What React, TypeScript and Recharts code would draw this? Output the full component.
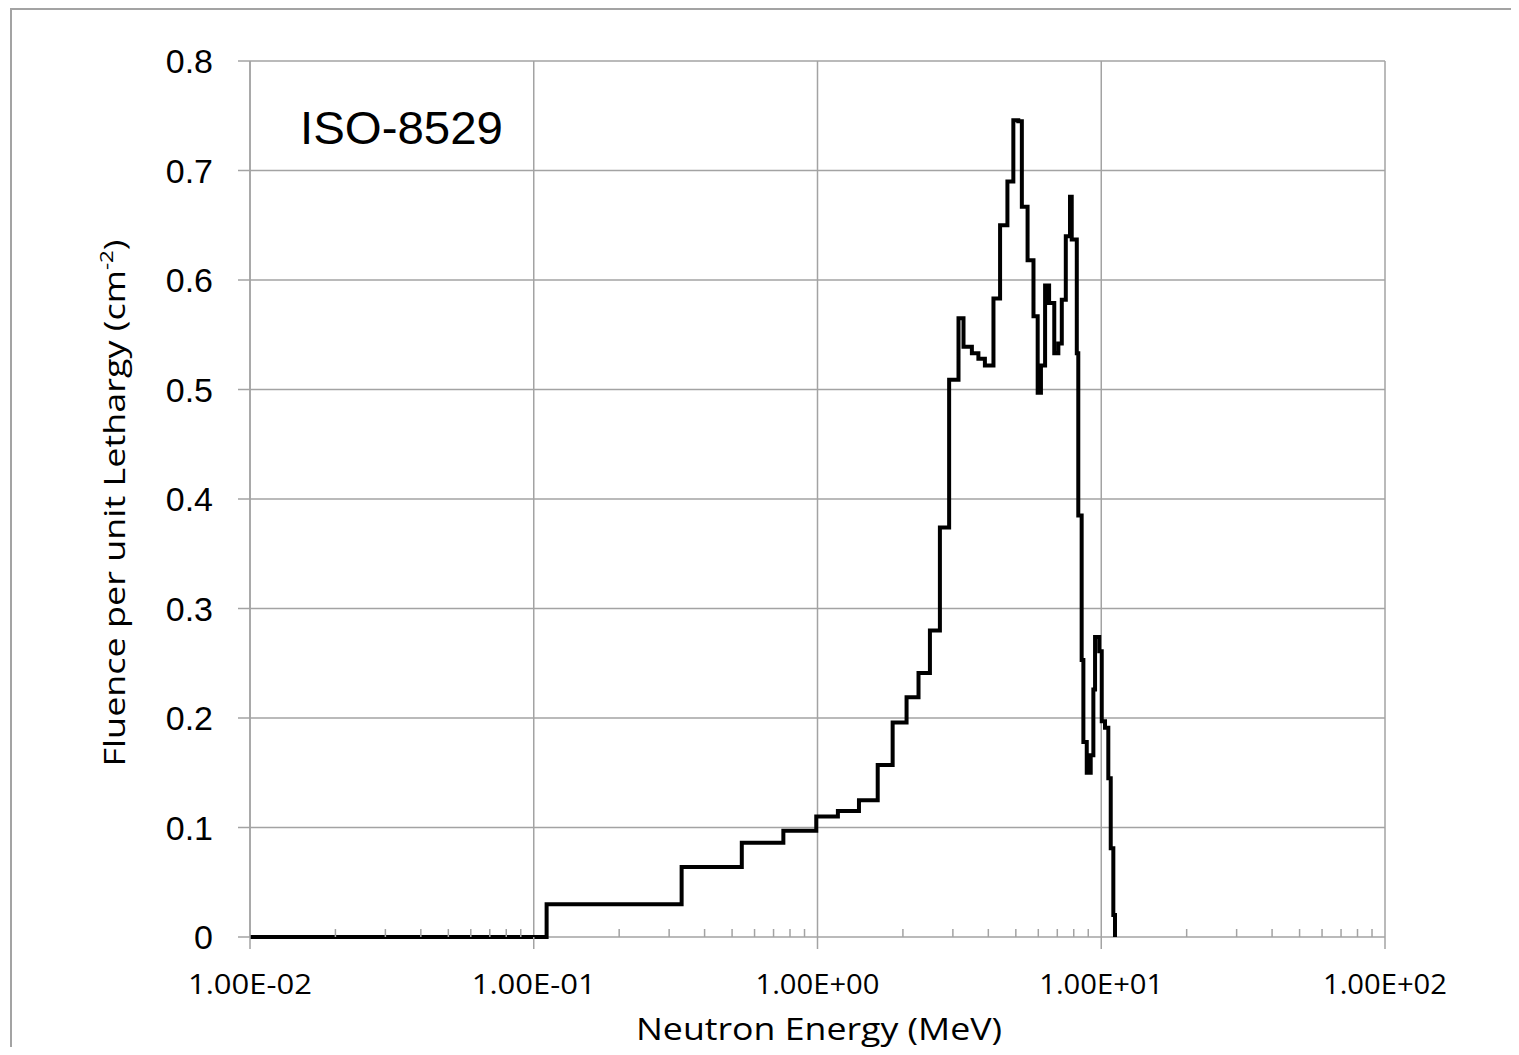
import React from 'react';
import { LineChart, Line, XAxis, YAxis, CartesianGrid, Customized } from 'recharts';

// Bin lower edges (MeV) and fluence per unit lethargy (step function)
const energyMeV = [
  0.01, 0.111, 0.332, 0.541, 0.758, 0.99, 1.18, 1.40, 1.63, 1.84, 2.06, 2.27, 2.49, 2.70, 2.91,
  3.14, 3.27, 3.50, 3.69, 3.89, 4.17, 4.40, 4.67, 4.90, 5.10, 5.25, 5.50, 5.77, 5.97, 6.13,
  6.34, 6.55, 6.83, 7.06, 7.26, 7.50, 7.76, 7.87, 8.20, 8.30, 8.53, 8.65, 8.89, 9.18, 9.38,
  9.51, 9.84, 10.04, 10.31, 10.59, 10.80, 11.03, 11.18,
];
const fluence = [
  0, 0.030, 0.064, 0.086, 0.097, 0.110, 0.115, 0.125, 0.157, 0.196, 0.219, 0.241, 0.280, 0.374, 0.509,
  0.565, 0.539, 0.533, 0.528, 0.522, 0.583, 0.650, 0.690, 0.746, 0.745, 0.667, 0.618, 0.567, 0.497, 0.522,
  0.595, 0.579, 0.533, 0.542, 0.582, 0.640, 0.676, 0.637, 0.533, 0.385, 0.253, 0.178, 0.150, 0.166, 0.226,
  0.274, 0.261, 0.197, 0.191, 0.145, 0.081, 0.020, 0,
];

const majorTicks = [0.01, 0.1, 1, 10, 100];
const majorTickLabels = ['1.00E-02', '1.00E-01', '1.00E+00', '1.00E+01', '1.00E+02'];
const minorTicks = [
  0.02, 0.03, 0.04, 0.05, 0.06, 0.07, 0.08, 0.09,
  0.2, 0.3, 0.4, 0.5, 0.6, 0.7, 0.8, 0.9,
  2, 3, 4, 5, 6, 7, 8, 9,
  20, 30, 40, 50, 60, 70, 80, 90,
];
const yTicks = [0, 0.1, 0.2, 0.3, 0.4, 0.5, 0.6, 0.7, 0.8];
const yTickLabels = ['0', '0.1', '0.2', '0.3', '0.4', '0.5', '0.6', '0.7', '0.8'];

const data = energyMeV.map((e, i) => ({ energy: e, fluence: fluence[i] }));

const GRID = '#a3a3a3';
const NARROW = "'Open Sans', 'DejaVu Sans', sans-serif";
const ARIAL = "'Liberation Sans', Arial, sans-serif";

const XTick = (props: any) => {
  const { x, y, payload } = props;
  const idx = majorTicks.findIndex((t) => Math.abs(Math.log10(t) - Math.log10(payload.value)) < 1e-6);
  const label = idx >= 0 ? majorTickLabels[idx] : '';
  return (
    <text
      x={x}
      y={y}
      dy="0.71em"
      textAnchor="middle"
      fontSize={28}
      fontFamily={NARROW}
      fill="#000"
      textLength={124}
      lengthAdjust="spacingAndGlyphs"
    >
      {label}
    </text>
  );
};

const EmptyTick = () => <g />;

const yFormat = (v: number) => {
  const idx = yTicks.findIndex((t) => Math.abs(t - v) < 1e-9);
  return idx >= 0 ? yTickLabels[idx] : String(v);
};

const Titles = () => (
  <g>
    <text
      x={292}
      y={136}
      fontSize={47}
      fontFamily={ARIAL}
      fill="#000"
      textLength={203}
      lengthAdjust="spacingAndGlyphs"
    >
      ISO-8529
    </text>
    <text
      x={811}
      y={1032}
      textAnchor="middle"
      fontSize={31}
      fontFamily={NARROW}
      fill="#000"
      textLength={366}
      lengthAdjust="spacingAndGlyphs"
    >
      Neutron Energy (MeV)
    </text>
    <text
      transform="translate(117,495) rotate(-90)"
      x={0}
      y={0}
      textAnchor="middle"
      fontSize={29}
      fontFamily={NARROW}
      fill="#000"
      textLength={527}
      lengthAdjust="spacingAndGlyphs"
    >
      Fluence per unit Lethargy  (cm
      <tspan fontSize={18} dy={-12}>-2</tspan>
      <tspan dy={12}>)</tspan>
    </text>
  </g>
);

export default function App() {
  return (
    <div style={{ position: 'relative', width: 1500, height: 1047, marginBottom: -8 }}>
      <div
        style={{
          position: 'absolute',
          left: 2,
          top: 0,
          width: 1508,
          height: 1047,
          borderTop: `2px solid ${GRID}`,
          borderLeft: `2px solid ${GRID}`,
          boxSizing: 'border-box',
        }}
      />
      <div style={{ position: 'absolute', left: 0, top: 0 }}>
        <LineChart
          width={1500}
          height={1046}
          data={data}
          margin={{ top: 53, right: 123, bottom: 57, left: 162 }}
        >
          <CartesianGrid stroke={GRID} strokeWidth={1.5} />
          <XAxis
            dataKey="energy"
            type="number"
            scale="log"
            domain={[0.01, 100]}
            ticks={majorTicks}
            interval={0}
            tickSize={12}
            tickMargin={25}
            height={60}
            tick={<XTick />}
            tickLine={{ stroke: GRID, strokeWidth: 1.5 }}
            axisLine={false}
          />
          <XAxis
            xAxisId="minor"
            dataKey="energy"
            type="number"
            scale="log"
            domain={[0.01, 100]}
            ticks={minorTicks}
            interval={0}
            mirror
            tick={<EmptyTick />}
            tickSize={8}
            tickLine={{ stroke: GRID, strokeWidth: 1.5 }}
            axisLine={false}
          />
          <YAxis
            type="number"
            domain={[0, 0.8]}
            ticks={yTicks}
            interval={0}
            width={80}
            tickSize={12}
            tickMargin={25}
            tickFormatter={yFormat}
            tick={{ fill: '#000', fontSize: 34, fontFamily: ARIAL }}
            tickLine={{ stroke: GRID, strokeWidth: 1.5 }}
            axisLine={{ stroke: GRID, strokeWidth: 1.5 }}
          />
          <Line
            type="stepAfter"
            dataKey="fluence"
            stroke="#000"
            strokeWidth={4}
            dot={false}
            activeDot={false}
            isAnimationActive={false}
          />
          <Customized component={Titles} />
        </LineChart>
      </div>
    </div>
  );
}
